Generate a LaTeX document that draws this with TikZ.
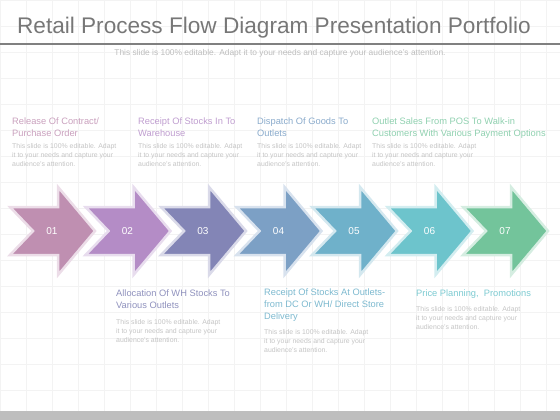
\documentclass[tikz,border=0pt]{standalone}
\usepackage{fontspec}
\setmainfont{Liberation Sans}
\usetikzlibrary{calc}
\definecolor{ca}{HTML}{BF8FB1}
\definecolor{cb}{HTML}{B48CC6}
\definecolor{cc}{HTML}{8385B6}
\definecolor{cd}{HTML}{7CA0C5}
\definecolor{ce}{HTML}{6FB1CA}
\definecolor{cf}{HTML}{6DC4CC}
\definecolor{cg}{HTML}{73C49B}
\definecolor{titlegray}{HTML}{777777}
\definecolor{rulegray}{HTML}{808080}
\definecolor{subgray}{HTML}{BDBDBD}
\definecolor{bodygray}{HTML}{C4C4C4}
\definecolor{gridgray}{HTML}{F3F3F3}
\definecolor{bargray}{HTML}{BEBEBE}

\begin{document}
\begin{tikzpicture}[x=1pt,y=-1pt,
  chev/.style={line width=2.5pt,line join=miter},
  headtxt/.style={anchor=base west,align=left,inner sep=0pt,font=\fontsize{9.3}{11.8}\selectfont},
  bodytxt/.style={anchor=base west,align=left,inner sep=0pt,text=bodygray,font=\fontsize{6.9}{8.6}\selectfont}]
\useasboundingbox (0,0) rectangle (560,420);
%grid and frame
\foreach \gx in {0,26,...,546} \draw[gridgray,line width=0.5pt] (\gx,0)--(\gx,411);
\foreach \gy in {0,26,...,400} \draw[gridgray,line width=0.5pt] (0,\gy)--(560,\gy);
\fill[bargray] (0,411) rectangle (560,420);
\node[text=titlegray,font=\fontsize{22.6}{26}\selectfont] (title) at (274,28) {Retail Process Flow Diagram Presentation Portfolio};
\draw[rulegray,line width=1.5pt] (0,44)--(560,44);
\node[text=subgray,font=\fontsize{8.4}{10}\selectfont] (sub) at (280,53) {This slide is 100\% editable. Adapt it to your needs and capture your audience's attention.};
%arrows
\foreach \i/\col in {1/ca,2/cb,3/cc,4/cd,5/ce,6/cf,7/cg}{
  \pgfmathsetmacro{\cx}{52+75.5*(\i-1)}
  \draw[chev,draw=\col!30!white,fill=\col] (\cx-42,207)--(\cx+6,207)--(\cx+6,187)--(\cx+43,231)
    --(\cx+6,275)--(\cx+6,255)--(\cx-42,255)--(\cx-19,231)--cycle;
  \node[text=white,font=\fontsize{10}{12}\selectfont] (n\i) at (\cx,231) {0\i};
}
%texts above (base = last line)
\node[headtxt,text=ca!85!white] (ha) at (12,136) {Release Of Contract/\\Purchase Order};
\node[bodytxt] (ba) at (12,166) {This slide is 100\% editable. Adapt\\it to your needs and capture your\\audience's attention.};
\node[headtxt,text=cb!85!white] (hb) at (138,136) {Receipt Of Stocks In To\\Warehouse};
\node[bodytxt] (bb) at (138,166) {This slide is 100\% editable. Adapt\\it to your needs and capture your\\audience's attention.};
\node[headtxt,text=cd!90!white] (hc) at (257,136) {Dispatch Of Goods To\\Outlets};
\node[bodytxt] (bc) at (257,166) {This slide is 100\% editable. Adapt\\it to your needs and capture your\\audience's attention.};
\node[headtxt,text=cg!80!white] (hd) at (372,136) {Outlet Sales From POS To Walk-in\\Customers With Various Payment Options};
\node[bodytxt] (bd) at (372,166) {This slide is 100\% editable. Adapt\\it to your needs and capture your\\audience's attention.};
%texts below
\node[headtxt,text=cc!90!white] (he) at (116,308) {Allocation Of WH Stocks To\\Various Outlets};
\node[bodytxt] (be) at (116,342) {This slide is 100\% editable. Adapt\\it to your needs and capture your\\audience's attention.};
\node[headtxt,text=ce!90!white] (hf) at (264,319) {Receipt Of Stocks At Outlets-\\from DC Or WH/ Direct Store\\Delivery};
\node[bodytxt] (bf) at (264,352) {This slide is 100\% editable. Adapt\\it to your needs and capture your\\audience's attention.};
\node[headtxt,text=cf!90!white] (hg) at (416,296) {Price Planning, \ Promotions};
\node[bodytxt] (bg) at (416,329) {This slide is 100\% editable. Adapt\\it to your needs and capture your\\audience's attention.};
\end{tikzpicture}
\end{document}
